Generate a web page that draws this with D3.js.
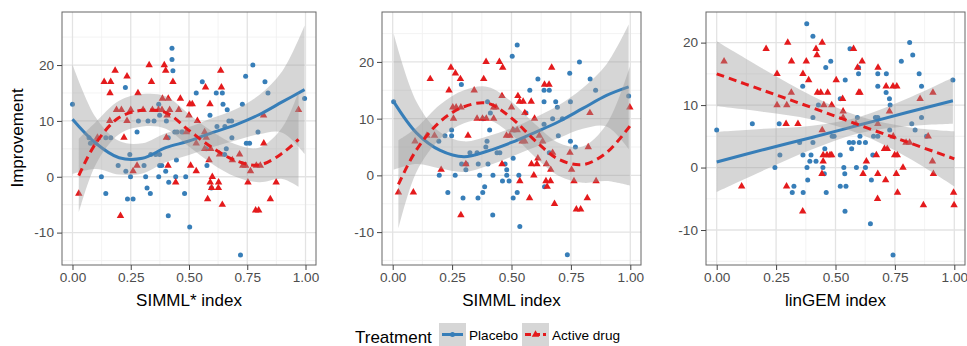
<!DOCTYPE html>
<html>
<head>
<meta charset="utf-8">
<script src="https://cdn.jsdelivr.net/npm/d3@7"></script>
<style>
  body { margin: 0; background: #fff; }
  svg { font-family: "Liberation Sans", Arial, Helvetica, sans-serif; }
</style>
</head>
<body>
<svg id="chart" width="967" height="346"></svg>
<script>
// ---------------------------------------------------------------------------
// Data

const groups = ['Placebo', 'Active drug'];
const xTitles = ['SIMML* index', 'SIMML index', 'linGEM index'];
const yLabel = 'Improvement';
const xTicks = [0, 0.25, 0.5, 0.75, 1];
const xMinor = [0.125, 0.375, 0.625, 0.875];
const yTicks = [-10, 0, 10, 20];
const yMinor = [-15, -5, 5, 15, 25];

// panel 1 : SIMML* index
const p1Placebo = [[0,13],[0.427,23],[0.427,21],[0.431,19],[0.774,20],[0.743,18],[0.557,17],[0.826,17],[0.227,16],
  [0.531,15],[0.617,15],[0.643,15],[0.839,15],[0.646,13],[0.729,13],[0.37,13],[0.664,12],[0.374,11],[0.59,11],
  [0.283,10],[0.324,10],[0.35,10],[0.403,10],[0.671,10],[0.683,10],[0.62,9],[0.654,9],[0.277,8],[0.439,8],
  [0.449,8],[0.47,8],[0.796,8],[0.071,7],[0.143,7],[0.164,7],[0.411,7],[0.684,7],[0.077,6],[0.746,6],[0.76,6],
  [0.574,5],[0.66,5],[0.246,4],[0.336,4],[0.357,4],[0.374,4],[0.653,4],[0.446,3],[0.196,2],[0.307,2],[0.374,2],
  [0.383,2],[0.577,2],[0.229,1],[0.4,1],[0.124,0],[0.249,0],[0.314,0],[0.37,0],[0.443,0],[0.486,0],[0.413,-1],
  [0.32,-2],[0.596,-2],[0.143,-3],[0.334,-3],[0.481,-3],[0.236,-4],[0.26,-4],[0.411,-7],[0.503,-9],[0.721,-14],
  [0.996,14]];
const p1Active = [[0.329,20],[0.394,20],[0.183,19],[0.4,19],[0.636,19],[0.234,18],[0.136,17],[0.164,17],[0.339,17],
  [0.431,17],[0.571,16],[0.639,16],[0.161,15],[0.281,15],[0.386,14],[0.411,14],[0.463,14],[0.503,13],[0.514,13],
  [0.59,13],[0.189,12],[0.21,12],[0.25,12],[0.303,12],[0.343,12],[0.369,12],[0.384,12],[0.417,12],[0.456,12],
  [0.97,12],[0.406,11],[0.5,11],[0.82,11],[0.16,10],[0.234,10],[0.536,10],[0.489,8],[0.567,8],[0.107,7],[0.221,7],
  [0.403,7],[0.574,7],[0.1,6],[0.531,6],[0.821,6],[0.567,5],[0.593,5],[0.631,4],[0.717,4],[0.686,3],[0.586,3],
  [0.277,2],[0.41,2],[0.507,2],[0.731,2],[0.743,2],[0.789,2],[0.806,2],[0.26,1],[0.531,1],[0.764,1],[0.6,0],
  [0.443,-1],[0.591,-1],[0.627,-1],[0.753,-1],[0.874,-1],[0.597,-2],[0.626,-2],[0.027,-3],[0.58,-4],[0.849,-4],
  [0.643,-5],[0.786,-6],[0.799,-6],[0.206,-7]];
const p1PlaceboFitX = [0, 0.1, 0.2, 0.3, 0.4, 0.5, 0.6, 0.7, 0.8, 0.9, 0.996];
const p1PlaceboFit = [10.3, 6.0, 3.4, 3.3, 5.2, 6.4, 7.9, 9.3, 11.1, 13.4, 15.6];
const p1PlaceboHalf = [9.8, 4.6, 3.0, 2.7, 2.6, 2.5, 2.6, 2.8, 3.5, 5.5, 11.5];
const p1ActiveFitX = [0.027, 0.1, 0.2, 0.3, 0.4, 0.5, 0.6, 0.7, 0.8, 0.9, 0.97];
const p1ActiveFit = [0.2, 6.0, 10.6, 11.9, 11.5, 8.3, 5.2, 2.9, 2.1, 4.2, 6.7];
const p1ActiveHalf = [6.6, 3.8, 3.0, 2.9, 2.9, 2.9, 2.9, 2.9, 3.1, 4.6, 8.5];

// panel 2 : SIMML index
const p2Placebo = [[0.004,13],[0.524,23],[0.503,21],[0.786,20],[0.745,18],[0.611,17],[0.831,17],[0.289,16],[0.577,15],
  [0.637,15],[0.659,15],[0.854,15],[0.399,13],[0.637,13],[0.686,13],[0.748,13],[0.693,12],[0.411,11],[0.561,11],
  [0.38,10],[0.673,10],[0.714,10],[0.637,9],[0.248,8],[0.408,8],[0.511,8],[0.22,7],[0.248,7],[0.697,7],[0.194,6],
  [0.397,6],[0.748,6],[0.392,5],[0.769,5],[0.325,4],[0.355,4],[0.439,4],[0.451,4],[0.659,4],[0.507,3],[0.29,2],
  [0.31,2],[0.36,2],[0.401,2],[0.473,2],[0.308,1],[0.48,1],[0.196,0],[0.263,0],[0.366,0],[0.422,0],[0.48,0],
  [0.531,0],[0.462,-1],[0.49,-1],[0.387,-2],[0.639,-2],[0.232,-3],[0.379,-3],[0.524,-3],[0.296,-4],[0.359,-4],
  [0.507,-4],[0.421,-7],[0.535,-9],[0.735,-14],[0.993,14]];
const p2Active = [[0.393,20],[0.449,20],[0.245,19],[0.463,19],[0.669,19],[0.264,18],[0.158,17],[0.285,17],[0.383,17],
  [0.639,16],[0.658,16],[0.237,15],[0.343,15],[0.46,14],[0.527,14],[0.534,13],[0.549,13],[0.583,13],[0.253,12],
  [0.267,12],[0.287,12],[0.425,12],[0.435,12],[0.5,12],[0.998,12],[0.556,11],[0.83,11],[0.256,10],[0.355,10],
  [0.378,10],[0.394,10],[0.425,10],[0.597,10],[0.506,8],[0.524,8],[0.144,7],[0.176,7],[0.317,7],[0.479,7],
  [0.493,7],[0.617,7],[0.094,6],[0.545,6],[0.556,6],[0.631,6],[0.823,5],[0.673,4],[0.746,4],[0.611,3],[0.308,2],
  [0.46,2],[0.584,2],[0.607,2],[0.647,2],[0.204,1],[0.665,1],[0.753,1],[0.594,0],[0.535,-1],[0.645,-1],[0.664,-1],
  [0.763,-1],[0.856,-1],[0.65,-2],[0.024,-3],[0.087,-3],[0.576,-4],[0.819,-4],[0.681,-5],[0.773,-6],[0.791,-6],
  [0.287,-7]];
const p2PlaceboFitX = [0.004, 0.1, 0.2, 0.3, 0.4, 0.5, 0.6, 0.7, 0.8, 0.9, 0.993];
const p2PlaceboFit = [13.0, 7.5, 4.4, 3.3, 4.3, 5.8, 7.6, 9.5, 11.8, 14.1, 15.6];
const p2PlaceboHalf = [12.0, 5.5, 3.2, 2.7, 2.6, 2.5, 2.6, 2.9, 3.6, 5.5, 11.0];
const p2ActiveFitX = [0.024, 0.1, 0.2, 0.3, 0.4, 0.5, 0.6, 0.7, 0.8, 0.9, 0.998];
const p2ActiveFit = [-1.6, 4.5, 9.5, 12.1, 12.7, 10.1, 6.1, 2.8, 1.9, 4.0, 8.7];
const p2ActiveHalf = [7.8, 3.9, 3.0, 2.9, 2.9, 2.9, 2.9, 2.9, 3.2, 5.0, 10.5];

// panel 3 : linGEM index
const p3Placebo = [[0.379,23],[0.405,21],[0.812,20],[0.561,19],[0.825,18],[0.48,17],[0.777,17],[0.459,16],[0.597,16],
  [0.597,15],[0.678,15],[0.714,15],[0.852,15],[0.541,14],[0.994,14],[0.362,13],[0.678,13],[0.862,13],[0.713,12],
  [0.52,11],[0.727,11],[0.73,10],[0.428,10],[0.405,8],[0.592,8],[0.668,8],[0.678,8],[0.862,8],[0.15,7],[0.263,7],
  [0.821,7],[0,6],[0.835,6],[0.728,6],[0.486,5],[0.494,5],[0.603,5],[0.66,5],[0.678,5],[0.883,5],[0.349,4],
  [0.405,4],[0.558,4],[0.575,4],[0.6,4],[0.626,4],[0.455,3],[0.568,3],[0.266,2],[0.363,2],[0.397,2],[0.52,2],
  [0.657,2],[0.392,1],[0.418,1],[0.245,0],[0.38,0],[0.447,0],[0.535,0],[0.588,0],[0.626,0],[0.453,-1],[0.539,-1],
  [0.383,-2],[0.651,-2],[0.325,-3],[0.52,-3],[0.544,-3],[0.318,-4],[0.364,-4],[0.461,-4],[0.54,-7],[0.647,-9],
  [0.742,-14]];
const p3Active = [[0.299,20],[0.444,20],[0.208,19],[0.418,19],[0.576,19],[0.422,18],[0.031,17],[0.315,17],[0.377,17],
  [0.612,17],[0.593,16],[0.679,16],[0.254,15],[0.363,15],[0.387,14],[0.503,14],[0.713,13],[0.742,13],[0.758,13],
  [0.314,12],[0.424,12],[0.438,12],[0.467,12],[0.598,12],[0.603,12],[0.91,12],[0.53,11],[0.856,11],[0.254,10],
  [0.295,10],[0.451,10],[0.484,10],[0.532,9],[0.727,9],[0.532,8],[0.292,7],[0.342,7],[0.586,7],[0.678,7],
  [0.444,6],[0.743,5],[0.89,5],[0.797,4],[0.812,4],[0.706,3],[0.718,3],[0.448,2],[0.464,2],[0.477,2],[0.484,2],
  [0.672,2],[0.749,2],[0.76,2],[0.448,1],[0.63,1],[0.908,1],[0.784,0],[0.443,-1],[0.616,-1],[0.678,-1],
  [0.756,-1],[0.912,-1],[0.711,-2],[0.105,-3],[0.294,-3],[0.761,-4],[0.997,-4],[0.677,-5],[0.87,-6],[0.999,-6],
  [0.362,-7]];
const p3PlaceboFitX = [0, 0.2, 0.4, 0.6, 0.8, 0.994];
const p3PlaceboFit = [0.9, 2.9, 4.8, 6.8, 8.8, 10.7];
const p3PlaceboHalf = [4.8, 3.3, 1.9, 1.3, 2.2, 3.7];
const p3ActiveFitX = [0, 0.2, 0.4, 0.6, 0.8, 1.0];
const p3ActiveFit = [15.0, 12.3, 9.6, 6.8, 4.1, 1.4];
const p3ActiveHalf = [5.2, 3.4, 1.9, 1.4, 2.4, 4.4];

// ---------------------------------------------------------------------------
// Layout and style

const colors = {Placebo: '#377eb8', 'Active drug': '#e41a1c'};
const bandFill = '#999999';
const bandOpacity = 0.4;
const textGrey = '#4d4d4d';

const panels = [
  {left: 62, right: 316, yDomain: [-15.8, 29.5], title: xTitles[0],
   points: [p1Placebo, p1Active],
   fits: [[p1PlaceboFitX, p1PlaceboFit, p1PlaceboHalf], [p1ActiveFitX, p1ActiveFit, p1ActiveHalf]]},
  {left: 382, right: 641, yDomain: [-15.8, 28.8], title: xTitles[1],
   points: [p2Placebo, p2Active],
   fits: [[p2PlaceboFitX, p2PlaceboFit, p2PlaceboHalf], [p2ActiveFitX, p2ActiveFit, p2ActiveHalf]]},
  {left: 706, right: 965, yDomain: [-15.6, 24.9], title: xTitles[2],
   points: [p3Placebo, p3Active],
   fits: [[p3PlaceboFitX, p3PlaceboFit, p3PlaceboHalf], [p3ActiveFitX, p3ActiveFit, p3ActiveHalf]]},
];
const plotTop = 12, plotBottom = 265;

const svg = d3.select('#chart');
const triangle = d3.symbol().type(d3.symbolTriangle).size(24);

panels.forEach((p, i) => {
  const x = d3.scaleLinear().domain([-0.045, 1.045]).range([p.left, p.right]);
  const y = d3.scaleLinear().domain(p.yDomain).range([plotBottom, plotTop]);
  const g = svg.append('g');

  g.append('clipPath').attr('id', `clip${i}`)
    .append('rect')
    .attr('x', p.left).attr('y', plotTop)
    .attr('width', p.right - p.left).attr('height', plotBottom - plotTop);

  // grid
  const grid = g.append('g').attr('clip-path', `url(#clip${i})`);
  grid.selectAll('.xminor').data(xMinor).enter().append('line')
    .attr('x1', d => x(d)).attr('x2', d => x(d)).attr('y1', plotTop).attr('y2', plotBottom)
    .attr('stroke', '#f0f0f0').attr('stroke-width', 0.8);
  grid.selectAll('.yminor').data(yMinor).enter().append('line')
    .attr('x1', p.left).attr('x2', p.right).attr('y1', d => y(d)).attr('y2', d => y(d))
    .attr('stroke', '#f0f0f0').attr('stroke-width', 0.8);
  grid.selectAll('.xmajor').data(xTicks).enter().append('line')
    .attr('x1', d => x(d)).attr('x2', d => x(d)).attr('y1', plotTop).attr('y2', plotBottom)
    .attr('stroke', '#e3e3e3').attr('stroke-width', 1.3);
  grid.selectAll('.ymajor').data(yTicks).enter().append('line')
    .attr('x1', p.left).attr('x2', p.right).attr('y1', d => y(d)).attr('y2', d => y(d))
    .attr('stroke', '#e3e3e3').attr('stroke-width', 1.3);

  const plot = g.append('g').attr('clip-path', `url(#clip${i})`);

  // points
  plot.selectAll('.placebo').data(p.points[0]).enter().append('circle')
    .attr('cx', d => x(d[0])).attr('cy', d => y(d[1])).attr('r', 2.5)
    .attr('fill', colors.Placebo);
  plot.selectAll('.active').data(p.points[1]).enter().append('path')
    .attr('d', triangle)
    .attr('transform', d => `translate(${x(d[0])},${y(d[1])})`)
    .attr('fill', colors['Active drug']);

  // smooths: ribbon then line, group by group
  p.fits.forEach((f, k) => {
    const rows = f[0].map((xv, j) => ({x: xv, fit: f[1][j], half: f[2][j]}));
    const area = d3.area()
      .x(d => x(d.x))
      .y0(d => y(d.fit - d.half))
      .y1(d => y(d.fit + d.half))
      .curve(d3.curveCatmullRom.alpha(0.5));
    const line = d3.line()
      .x(d => x(d.x))
      .y(d => y(d.fit))
      .curve(d3.curveCatmullRom.alpha(0.5));
    plot.append('path').datum(rows)
      .attr('d', area)
      .attr('fill', bandFill).attr('fill-opacity', bandOpacity);
    plot.append('path').datum(rows)
      .attr('d', line)
      .attr('fill', 'none')
      .attr('stroke', colors[groups[k]])
      .attr('stroke-width', 3)
      .attr('stroke-dasharray', k === 1 ? '8,5' : null);
  });

  // border
  g.append('rect')
    .attr('x', p.left).attr('y', plotTop)
    .attr('width', p.right - p.left).attr('height', plotBottom - plotTop)
    .attr('fill', 'none').attr('stroke', '#666').attr('stroke-width', 1);

  // axes
  const yAxis = g.append('g')
    .attr('transform', `translate(${p.left},0)`)
    .call(d3.axisLeft(y).tickValues(yTicks).tickSize(5).tickPadding(3).tickFormat(d => String(d)));
  const xAxis = g.append('g')
    .attr('transform', `translate(0,${plotBottom})`)
    .call(d3.axisBottom(x).tickValues(xTicks).tickSize(5).tickPadding(2).tickFormat(d3.format('.2f')));
  [xAxis, yAxis].forEach(a => {
    a.select('.domain').remove();
    a.selectAll('.tick line').attr('stroke', '#444');
    a.selectAll('.tick text')
      .attr('fill', textGrey)
      .style('font-size', '13.6px')
      .style('font-family', '"Liberation Sans", Arial, sans-serif');
  });

  g.append('text')
    .attr('x', (p.left + p.right) / 2).attr('y', 306)
    .attr('text-anchor', 'middle')
    .style('font-size', '17px')
    .text(p.title);
});

// y title
svg.append('text')
  .attr('transform', 'translate(23,138) rotate(-90)')
  .attr('text-anchor', 'middle')
  .style('font-size', '17px')
  .text(yLabel);

// legend
const legend = svg.append('g');
legend.append('text')
  .attr('x', 355).attr('y', 343)
  .style('font-size', '17px')
  .text('Treatment');

const keyX = [439, 522];
const labelX = [469, 552];
groups.forEach((name, k) => {
  const kx = keyX[k], ky = 323, kw = 27, kh = 23;
  legend.append('rect')
    .attr('x', kx).attr('y', ky).attr('width', kw).attr('height', kh)
    .attr('fill', bandFill).attr('fill-opacity', bandOpacity);
  legend.append('line')
    .attr('x1', kx + 3).attr('x2', kx + kw - 3)
    .attr('y1', ky + kh / 2).attr('y2', ky + kh / 2)
    .attr('stroke', colors[name]).attr('stroke-width', 3)
    .attr('stroke-dasharray', k === 1 ? '6,3' : null);
  if (k === 0) {
    legend.append('circle')
      .attr('cx', kx + kw / 2).attr('cy', ky + kh / 2).attr('r', 2.5)
      .attr('fill', colors[name]);
  } else {
    legend.append('path')
      .attr('d', triangle)
      .attr('transform', `translate(${kx + kw / 2},${ky + kh / 2})`)
      .attr('fill', colors[name]);
  }
  legend.append('text')
    .attr('x', labelX[k]).attr('y', 340)
    .style('font-size', '13.6px')
    .text(name);
});
</script>
</body>
</html>
